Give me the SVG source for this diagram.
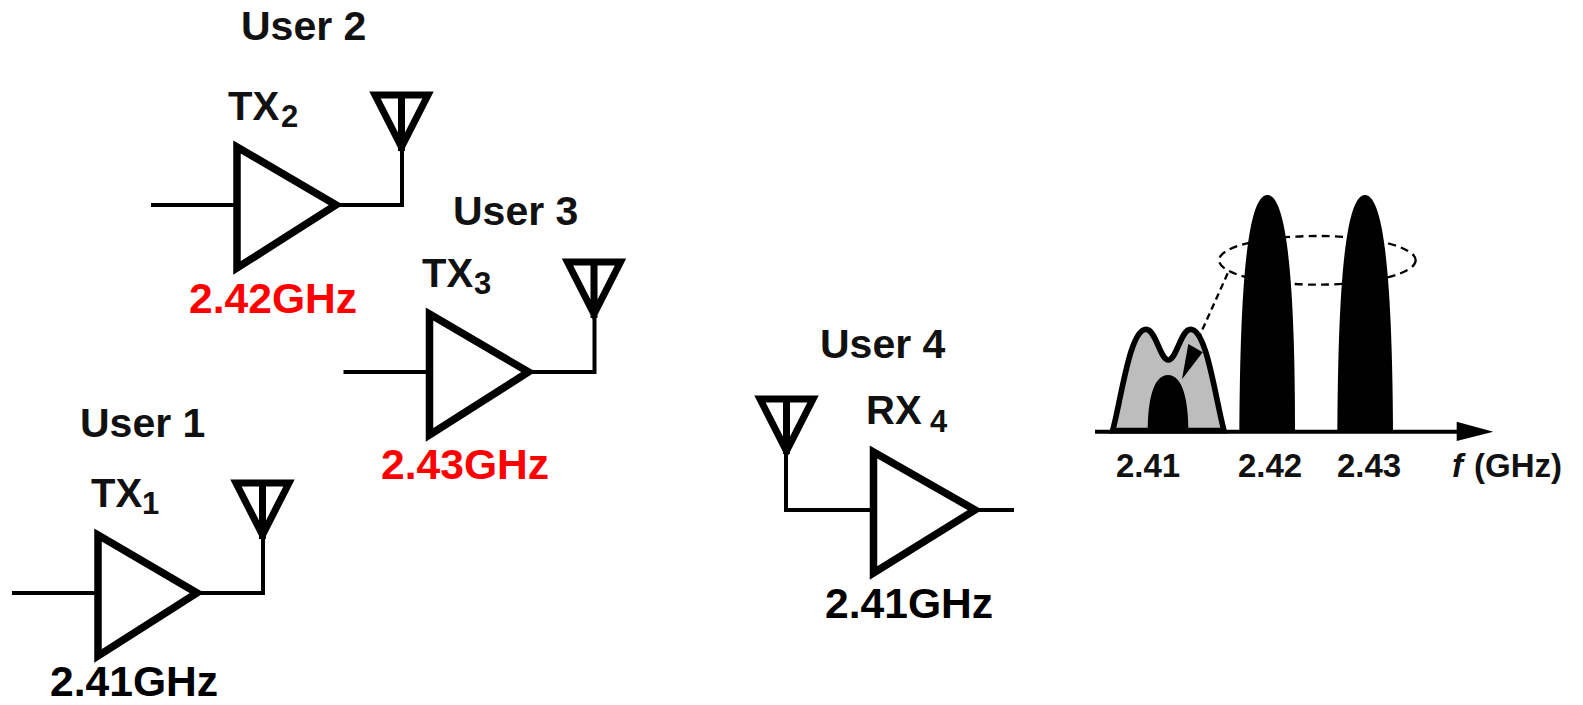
<svg xmlns="http://www.w3.org/2000/svg" width="1583" height="705" viewBox="0 0 1583 705">
<style>
text{font-family:"Liberation Sans",Arial,sans-serif;fill:#111;font-weight:bold}
.u{font-size:41px}
.lbl{font-size:40px}
.sub{font-size:31px}
.f{font-size:42.6px;fill:#000}
.red{fill:#f00}
.ax{font-size:33px}
.w{fill:none;stroke:#000;stroke-width:4;stroke-linecap:square}
.amp{fill:none;stroke:#000;stroke-width:7.500;stroke-miterlimit:10}
.ant{fill:none;stroke:#000;stroke-width:7;stroke-miterlimit:6}
</style>
<defs>
<g id="tx">
<path class="w" d="M153 205H236M335 205H402V152"/>
<path class="amp" d="M237 147L336 205L237 268Z"/>
<path class="ant" d="M375 95H428L401.500 147ZM401.500 95V151"/>
</g>
</defs>
<g id="connectors"><path class="w" d="M1097 431.700H1460"/></g>
<g id="user2">
<use href="#tx"/>
<text class="u" x="241" y="40">User 2</text>
<text class="lbl" x="228" y="120">TX</text><text class="sub" x="281" y="127">2</text>
<text class="f red" x="189" y="313">2.42GHz</text>
</g>
<g id="user3">
<use href="#tx" x="192.500" y="167"/>
<text class="u" x="453" y="225">User 3</text>
<text class="lbl" x="422" y="287">TX</text><text class="sub" x="474" y="294">3</text>
<text class="f red" x="381" y="479">2.43GHz</text>
</g>
<g id="user1">
<use href="#tx" x="-139" y="388"/>
<text class="u" x="80" y="437">User 1</text>
<text class="lbl" x="91" y="507">TX</text><text class="sub" x="142" y="514">1</text>
<text class="f" x="50" y="696">2.41GHz</text>
</g>
<g id="user4">
<path class="w" d="M786 452V510H873M976 510H1012"/>
<path class="amp" d="M873.500 452L975 510L873.500 573Z"/>
<path class="ant" d="M760 399H813L786.500 451ZM786.500 399V454"/>
<text class="u" x="820" y="358">User 4</text>
<text class="lbl" x="866" y="424">RX</text><text class="sub" x="930" y="432">4</text>
<text class="f" x="825" y="618">2.41GHz</text>
</g>
<g id="spectrum">
<g transform="translate(1080 170) scale(.33333)">
<path d="M98 782C125 680 150 478 198 478C228 478 240 570 265 570C290 570 302 478 332 478C380 478 405 680 432 782Z" fill="#bdbdbd" stroke="#000" stroke-width="17"/>
<path d="M203 785C203 690 220 615 264 615C308 615 325 690 325 785Z" fill="#000"/>
<ellipse cx="712" cy="271" rx="295" ry="73" fill="none" stroke="#000" stroke-width="7" stroke-dasharray="24 16"/>
<path d="M478 785C480 420 495 75 562 75C629 75 645 420 645 785Z" fill="#000"/>
<path d="M772 785C774 420 789 75 855 75C921 75 937 420 939 785Z" fill="#000"/>
<path d="M443 310L360 495" fill="none" stroke="#000" stroke-width="7" stroke-dasharray="20 13"/>
<path d="M325 522L368 547L306 628Z" fill="#000"/>
<path d="M1130 755L1240 785L1130 813Z" fill="#000"/>
</g>
<text class="ax" x="1116" y="477">2.41</text>
<text class="ax" x="1238" y="477">2.42</text>
<text class="ax" x="1337" y="477">2.43</text>
<text class="ax" x="1452" y="477" font-style="italic">f</text>
<text class="ax" x="1474" y="477">(GHz)</text>
</g>
</svg>
